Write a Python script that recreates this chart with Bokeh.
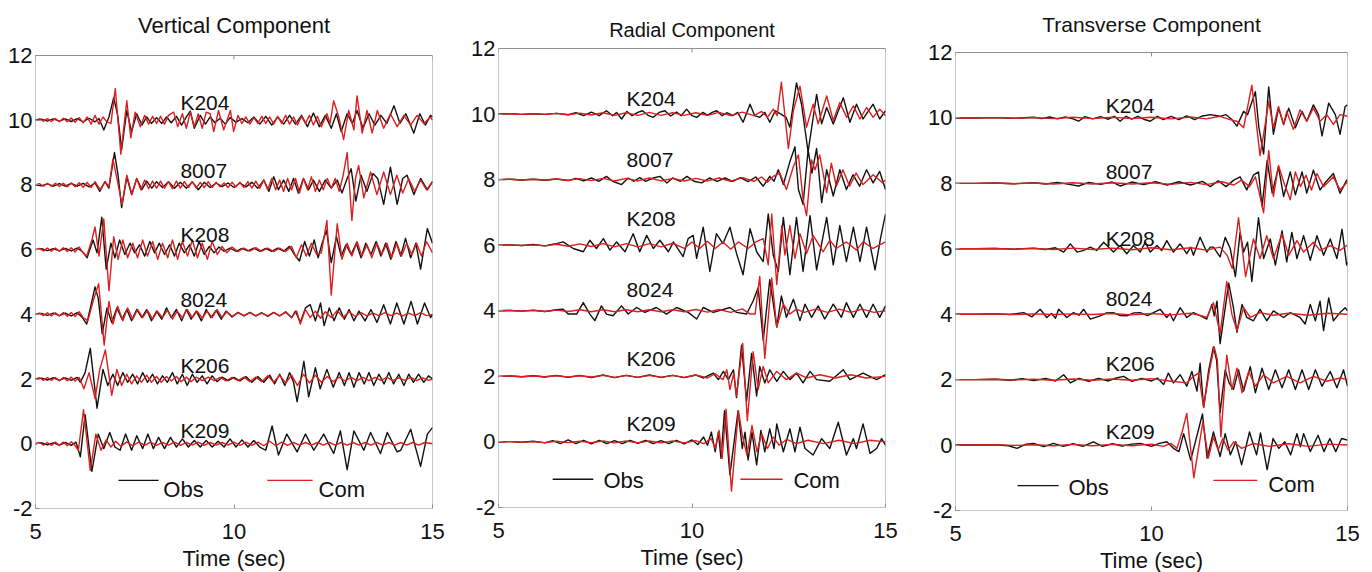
from bokeh.plotting import figure
from bokeh.layouts import row
from bokeh.models import Range1d, FixedTicker, PrintfTickFormatter
from bokeh.core.properties import value
from bokeh.embed import file_html
from bokeh.resources import INLINE

STATIONS = ["K204", "8007", "K208", "8024", "K206", "K209"]
OFFSETS = [10, 8, 6, 4, 2, 0]
X_TICKS = [5, 10, 15]
Y_TICKS = [-2, 0, 2, 4, 6, 8, 10, 12]
X_LIM = (5, 15)
Y_LIM = (-2, 12)
PANEL_TITLES = ["Vertical Component", "Radial Component", "Transverse Component"]
LEGEND_NAMES = ["Obs", "Com"]

# ---------------- Vertical component (time s, amplitude) ----------------
V_K204_OBS = [(5.0,0.0),(5.15,0.03),(5.3,-0.03),(5.45,0.04),(5.6,-0.03),(5.75,0.04),(5.9,-0.04),(6.05,0.05),(6.2,-0.05),(6.35,0.06),(6.5,-0.05),(6.6,0.05),(6.72,-0.3),(6.85,0.1),(6.97,0.7),(7.07,0.15),(7.17,-0.9),(7.3,0.3),(7.42,-0.35),(7.55,0.2),(7.68,-0.15),(7.8,0.1),(7.92,-0.1),(8.05,0.08),(8.18,-0.1),(8.3,0.1),(8.42,-0.08),(8.55,0.12),(8.68,-0.15),(8.8,0.1),(8.9,0.28),(9.0,-0.25),(9.15,0.15),(9.28,-0.12),(9.4,0.1),(9.52,-0.08),(9.65,0.06),(9.78,-0.12),(9.9,0.08),(10.05,-0.06),(10.2,0.05),(10.35,-0.08),(10.5,0.1),(10.65,-0.12),(10.8,0.12),(10.95,-0.15),(11.1,0.1),(11.25,-0.12),(11.4,0.15),(11.55,-0.12),(11.7,0.15),(11.85,-0.2),(12.0,0.22),(12.15,-0.2),(12.3,0.15),(12.45,-0.25),(12.58,0.2),(12.7,-0.35),(12.85,0.2),(12.98,-0.1),(13.1,0.3),(13.25,-0.25),(13.4,0.2),(13.55,-0.15),(13.7,0.15),(13.85,-0.1),(14.03,0.45),(14.18,-0.1),(14.33,0.2),(14.53,-0.4),(14.68,0.2),(14.82,-0.15),(14.95,0.15),(15.0,0.1)]
V_K204_COM = [(5.0,0.0),(5.1,0.04),(5.2,-0.03),(5.3,0.05),(5.4,-0.04),(5.5,0.05),(5.6,-0.05),(5.7,0.06),(5.8,-0.05),(5.9,0.07),(6.0,-0.06),(6.1,0.08),(6.2,-0.08),(6.3,0.1),(6.4,-0.12),(6.5,0.15),(6.6,-0.12),(6.7,0.1),(6.8,-0.05),(6.9,-0.1),(7.01,0.98),(7.15,-1.05),(7.3,0.6),(7.4,-0.55),(7.51,0.25),(7.64,-0.2),(7.75,0.15),(7.85,-0.12),(7.95,0.12),(8.05,-0.1),(8.15,0.12),(8.25,-0.12),(8.35,0.15),(8.48,0.25),(8.58,-0.2),(8.7,0.2),(8.8,-0.25),(8.9,0.25),(9.0,-0.2),(9.1,0.2),(9.2,-0.25),(9.3,0.25),(9.4,0.2),(9.49,-0.35),(9.61,0.3),(9.74,-0.3),(9.91,0.3),(9.99,-0.35),(10.1,0.15),(10.2,-0.1),(10.3,0.1),(10.4,-0.12),(10.5,0.08),(10.6,-0.1),(10.7,0.12),(10.8,-0.1),(10.9,0.1),(11.0,-0.12),(11.1,0.12),(11.2,-0.1),(11.3,0.15),(11.4,-0.12),(11.5,0.1),(11.6,-0.15),(11.7,0.12),(11.8,-0.1),(11.9,0.15),(12.0,-0.15),(12.1,0.12),(12.2,-0.2),(12.34,0.2),(12.42,-0.1),(12.51,0.6),(12.64,0.1),(12.76,-0.6),(12.89,0.3),(13.02,-0.3),(13.1,0.75),(13.23,-0.4),(13.35,0.3),(13.48,-0.4),(13.61,0.3),(13.77,-0.25),(13.94,0.2),(14.11,-0.2),(14.28,0.15),(14.45,-0.15),(14.61,0.15),(14.78,-0.1),(14.95,0.1),(15.0,0.0)]
V_8007_OBS = [(5.0,0.0),(5.15,-0.03),(5.3,0.03),(5.45,-0.04),(5.6,0.04),(5.75,-0.04),(5.9,0.05),(6.05,-0.04),(6.2,0.05),(6.35,-0.06),(6.5,0.06),(6.62,-0.2),(6.75,0.1),(6.85,-0.1),(6.99,1.0),(7.08,0.3),(7.17,-0.7),(7.3,0.25),(7.42,-0.3),(7.55,0.2),(7.68,-0.15),(7.8,0.12),(7.93,-0.1),(8.05,0.1),(8.2,-0.08),(8.35,0.1),(8.5,-0.1),(8.65,0.08),(8.8,-0.1),(8.95,0.1),(9.1,-0.15),(9.25,0.08),(9.4,-0.08),(9.55,0.06),(9.7,-0.05),(9.85,0.06),(10.0,-0.08),(10.15,0.06),(10.3,-0.06),(10.45,0.08),(10.6,-0.1),(10.75,0.15),(10.88,-0.2),(11.0,0.25),(11.12,-0.15),(11.25,0.15),(11.38,-0.2),(11.5,0.2),(11.62,-0.25),(11.75,0.2),(11.88,-0.15),(12.0,0.15),(12.15,-0.2),(12.3,0.15),(12.45,-0.1),(12.6,0.15),(12.72,-0.25),(12.85,0.2),(12.95,0.5),(13.07,-0.5),(13.2,0.3),(13.35,-0.2),(13.5,0.35),(13.62,0.2),(13.77,-0.6),(13.94,0.55),(14.11,-0.6),(14.25,0.2),(14.36,0.3),(14.53,-0.3),(14.7,0.2),(14.87,-0.15),(15.0,0.1)]
V_8007_COM = [(5.0,0.0),(5.1,0.04),(5.2,-0.04),(5.3,0.05),(5.4,-0.04),(5.5,0.05),(5.6,-0.05),(5.7,0.05),(5.8,-0.06),(5.9,0.06),(6.0,-0.06),(6.1,0.07),(6.2,-0.07),(6.3,0.08),(6.4,-0.08),(6.5,0.1),(6.63,-0.15),(6.75,0.1),(6.85,-0.05),(6.95,0.8),(7.05,0.2),(7.18,-0.6),(7.3,0.3),(7.43,-0.3),(7.55,0.2),(7.65,-0.15),(7.75,0.15),(7.85,-0.12),(7.95,0.12),(8.05,-0.1),(8.15,0.12),(8.25,-0.1),(8.35,0.1),(8.45,-0.12),(8.55,0.12),(8.65,-0.1),(8.75,0.1),(8.85,-0.08),(8.95,0.1),(9.05,-0.1),(9.15,0.08),(9.25,-0.08),(9.35,0.1),(9.45,-0.08),(9.55,0.08),(9.65,-0.06),(9.75,0.06),(9.85,-0.08),(9.95,0.08),(10.05,-0.06),(10.15,0.08),(10.25,-0.08),(10.35,0.1),(10.45,-0.1),(10.55,0.12),(10.65,-0.1),(10.75,0.15),(10.85,-0.15),(10.95,0.2),(11.05,-0.15),(11.15,0.15),(11.25,-0.2),(11.35,0.2),(11.45,-0.15),(11.55,0.2),(11.65,-0.25),(11.75,0.2),(11.85,-0.15),(11.95,0.25),(12.05,-0.2),(12.15,0.15),(12.25,-0.15),(12.35,0.2),(12.45,-0.1),(12.55,0.2),(12.65,-0.2),(12.75,0.3),(12.85,1.0),(12.97,-1.1),(13.06,0.2),(13.14,0.6),(13.27,-0.4),(13.44,0.4),(13.6,-0.3),(13.77,0.4),(13.94,-0.3),(14.1,0.3),(14.25,-0.25),(14.4,0.2),(14.55,-0.2),(14.7,0.15),(14.85,-0.15),(15.0,0.1)]
V_K208_OBS = [(5.0,0.0),(5.15,0.03),(5.3,-0.03),(5.45,0.03),(5.6,-0.04),(5.75,0.04),(5.9,-0.04),(6.05,0.05),(6.2,-0.08),(6.3,-0.25),(6.45,0.3),(6.55,-0.1),(6.67,1.0),(6.78,-0.6),(6.9,0.2),(7.0,-0.25),(7.12,0.3),(7.25,-0.15),(7.38,0.2),(7.5,-0.1),(7.62,0.15),(7.75,-0.2),(7.88,0.25),(8.0,-0.1),(8.12,0.2),(8.25,-0.15),(8.38,0.15),(8.5,-0.2),(8.62,0.2),(8.75,-0.1),(8.88,0.15),(9.0,-0.2),(9.12,0.25),(9.25,-0.15),(9.38,0.1),(9.5,-0.1),(9.62,0.08),(9.75,-0.05),(9.9,0.05),(10.05,-0.05),(10.2,0.04),(10.35,-0.04),(10.5,0.05),(10.65,-0.05),(10.8,0.04),(10.95,-0.05),(11.1,0.05),(11.25,-0.05),(11.4,0.1),(11.52,-0.15),(11.65,-0.35),(11.78,0.25),(11.9,-0.2),(12.02,0.3),(12.12,-0.25),(12.22,0.2),(12.33,0.6),(12.45,-0.4),(12.58,0.4),(12.7,-0.2),(12.82,0.15),(12.95,-0.15),(13.08,0.2),(13.2,-0.25),(13.32,0.2),(13.45,-0.15),(13.58,0.25),(13.7,-0.2),(13.82,0.2),(13.95,-0.3),(14.08,0.25),(14.2,-0.2),(14.32,0.35),(14.45,-0.25),(14.58,0.2),(14.7,-0.6),(14.87,0.65),(15.0,0.2)]
V_K208_COM = [(5.0,0.0),(5.1,0.04),(5.2,-0.04),(5.3,0.05),(5.4,-0.05),(5.5,0.05),(5.6,-0.05),(5.7,0.06),(5.8,-0.06),(5.9,0.06),(6.0,-0.07),(6.1,0.08),(6.2,-0.1),(6.29,-0.2),(6.42,0.3),(6.5,0.7),(6.6,-0.2),(6.72,0.95),(6.85,-1.27),(6.97,0.4),(7.08,-0.3),(7.2,0.3),(7.32,-0.25),(7.45,0.2),(7.57,-0.25),(7.7,0.3),(7.82,-0.2),(7.95,0.25),(8.08,-0.3),(8.2,0.2),(8.33,-0.25),(8.45,0.3),(8.58,-0.3),(8.7,0.25),(8.83,-0.2),(8.95,0.3),(9.08,-0.25),(9.2,0.2),(9.33,-0.3),(9.45,0.25),(9.58,-0.15),(9.7,0.1),(9.82,-0.1),(9.95,0.08),(10.1,-0.06),(10.25,0.05),(10.4,-0.05),(10.55,0.06),(10.7,-0.05),(10.85,0.05),(11.0,-0.06),(11.15,0.05),(11.3,-0.06),(11.45,0.1),(11.57,-0.25),(11.7,0.15),(11.82,-0.2),(11.95,0.2),(12.08,-0.15),(12.2,-0.1),(12.34,0.9),(12.45,-1.4),(12.6,0.8),(12.72,-0.3),(12.85,0.2),(12.97,-0.2),(13.1,0.25),(13.22,-0.2),(13.35,0.15),(13.47,-0.25),(13.6,0.2),(13.72,-0.15),(13.85,0.2),(13.97,-0.25),(14.1,0.2),(14.22,-0.2),(14.35,0.2),(14.48,-0.15),(14.6,0.2),(14.72,-0.2),(14.85,0.25),(15.0,-0.1)]
V_8024_OBS = [(5.0,0.0),(5.15,0.03),(5.3,-0.03),(5.45,0.04),(5.6,-0.04),(5.75,0.04),(5.9,-0.05),(6.05,0.05),(6.18,-0.1),(6.29,-0.3),(6.5,0.85),(6.58,0.5),(6.68,-0.6),(6.8,0.2),(6.92,-0.25),(7.05,0.2),(7.18,-0.15),(7.3,0.15),(7.42,-0.2),(7.55,0.15),(7.68,-0.1),(7.8,0.15),(7.92,-0.2),(8.05,0.1),(8.18,-0.15),(8.3,0.2),(8.42,-0.1),(8.55,0.15),(8.68,-0.2),(8.8,0.15),(8.92,-0.15),(9.05,0.1),(9.18,-0.2),(9.3,0.15),(9.42,-0.1),(9.55,0.12),(9.68,-0.15),(9.8,0.1),(9.95,-0.08),(10.1,0.06),(10.25,-0.05),(10.4,0.06),(10.55,-0.05),(10.7,0.05),(10.85,-0.06),(11.0,0.06),(11.15,-0.05),(11.3,0.08),(11.45,-0.1),(11.55,0.1),(11.67,-0.25),(11.8,0.2),(11.92,0.3),(12.05,-0.2),(12.18,0.35),(12.27,-0.35),(12.4,0.2),(12.52,-0.2),(12.65,0.2),(12.78,-0.15),(12.9,0.15),(13.02,-0.2),(13.15,0.1),(13.3,-0.2),(13.45,0.15),(13.6,-0.25),(13.77,0.3),(13.94,-0.3),(14.1,0.35),(14.28,-0.3),(14.46,0.4),(14.62,-0.3),(14.8,0.35),(14.95,-0.1),(15.0,0.0)]
V_8024_COM = [(5.0,0.0),(5.1,0.04),(5.2,-0.04),(5.3,0.05),(5.4,-0.05),(5.5,0.05),(5.6,-0.05),(5.7,0.06),(5.8,-0.06),(5.9,0.06),(6.0,-0.07),(6.1,0.08),(6.2,-0.1),(6.32,-0.2),(6.45,0.4),(6.59,0.95),(6.73,-0.95),(6.85,0.4),(6.95,-0.3),(7.07,0.25),(7.2,-0.2),(7.32,0.2),(7.45,-0.15),(7.57,0.15),(7.7,-0.1),(7.82,0.12),(7.95,-0.15),(8.07,0.1),(8.2,-0.1),(8.32,0.12),(8.45,-0.15),(8.57,0.1),(8.7,-0.1),(8.82,0.15),(8.95,-0.1),(9.07,0.1),(9.2,-0.12),(9.32,0.1),(9.45,-0.1),(9.57,0.15),(9.7,-0.1),(9.82,0.08),(9.95,-0.06),(10.1,0.05),(10.25,-0.04),(10.4,0.05),(10.55,-0.05),(10.7,0.04),(10.85,-0.05),(11.0,0.05),(11.15,-0.05),(11.3,0.06),(11.45,-0.1),(11.58,0.1),(11.67,-0.3),(11.8,0.15),(11.92,-0.1),(12.05,0.1),(12.18,-0.12),(12.3,0.08),(12.45,-0.1),(12.6,0.12),(12.75,-0.1),(12.9,0.08),(13.05,-0.06),(13.2,0.05),(13.35,-0.05),(13.5,0.04),(13.65,-0.04),(13.8,0.05),(13.95,-0.04),(14.1,0.04),(14.25,-0.05),(14.4,0.04),(14.55,-0.04),(14.7,0.05),(14.85,-0.04),(15.0,0.0)]
V_K206_OBS = [(5.0,0.0),(5.15,0.03),(5.3,-0.03),(5.45,0.04),(5.6,-0.04),(5.75,0.04),(5.9,-0.04),(6.05,0.05),(6.13,-0.1),(6.25,0.2),(6.38,0.95),(6.55,-0.9),(6.7,0.3),(6.82,-0.2),(6.95,0.15),(7.07,-0.2),(7.2,0.2),(7.32,-0.1),(7.45,0.15),(7.57,-0.15),(7.7,0.2),(7.82,-0.1),(7.95,0.15),(8.07,-0.15),(8.2,0.1),(8.32,-0.1),(8.45,0.2),(8.57,-0.15),(8.7,0.15),(8.82,-0.2),(8.95,0.15),(9.07,-0.1),(9.2,0.1),(9.32,-0.15),(9.45,0.1),(9.57,-0.08),(9.7,0.06),(9.85,-0.05),(10.0,0.05),(10.15,-0.06),(10.3,0.08),(10.45,-0.1),(10.6,0.08),(10.75,-0.1),(10.9,0.12),(11.02,-0.15),(11.15,0.15),(11.28,-0.2),(11.4,0.2),(11.5,-0.1),(11.59,-0.7),(11.76,0.55),(11.88,-0.55),(12.05,0.35),(12.17,-0.3),(12.34,0.3),(12.5,-0.25),(12.65,0.2),(12.78,-0.2),(12.9,0.2),(13.02,-0.25),(13.15,0.2),(13.28,-0.15),(13.4,0.2),(13.52,-0.2),(13.65,0.15),(13.78,-0.15),(13.9,0.2),(14.02,-0.15),(14.15,0.15),(14.28,-0.2),(14.4,0.15),(14.52,-0.1),(14.65,0.15),(14.78,-0.1),(14.9,0.1),(15.0,0.0)]
V_K206_COM = [(5.0,0.0),(5.1,0.04),(5.2,-0.04),(5.3,0.05),(5.4,-0.04),(5.5,0.05),(5.6,-0.05),(5.7,0.05),(5.8,-0.05),(5.9,0.06),(6.0,-0.06),(6.1,0.05),(6.22,-0.3),(6.35,0.2),(6.5,-0.6),(6.62,0.3),(6.76,0.9),(6.92,-0.5),(7.05,0.3),(7.17,-0.2),(7.3,0.15),(7.42,-0.15),(7.55,0.1),(7.67,-0.1),(7.8,0.12),(7.92,-0.1),(8.05,0.08),(8.17,-0.1),(8.3,0.08),(8.42,-0.06),(8.55,0.08),(8.67,-0.08),(8.8,0.06),(8.92,-0.08),(9.05,0.06),(9.2,-0.05),(9.35,0.06),(9.5,-0.05),(9.65,0.05),(9.8,-0.06),(9.95,0.05),(10.1,-0.05),(10.25,0.06),(10.4,-0.08),(10.55,0.06),(10.7,-0.08),(10.85,0.1),(11.0,-0.1),(11.15,0.12),(11.3,-0.12),(11.45,0.12),(11.6,-0.2),(11.75,0.15),(11.9,-0.12),(12.05,0.12),(12.2,-0.1),(12.35,0.08),(12.5,-0.08),(12.65,0.06),(12.8,-0.06),(12.95,0.05),(13.1,-0.05),(13.25,0.05),(13.4,-0.05),(13.55,0.05),(13.7,-0.04),(13.85,0.05),(14.0,-0.05),(14.15,0.04),(14.3,-0.04),(14.45,0.05),(14.6,-0.05),(14.75,0.04),(14.9,-0.04),(15.0,0.0)]
V_K209_OBS = [(5.0,0.0),(5.15,0.03),(5.3,-0.03),(5.45,0.03),(5.6,-0.04),(5.75,0.04),(5.9,-0.05),(6.02,0.05),(6.13,-0.4),(6.25,0.9),(6.42,-0.85),(6.58,0.3),(6.72,-0.15),(6.87,0.35),(7.0,-0.1),(7.13,-0.2),(7.27,0.3),(7.42,-0.2),(7.55,0.25),(7.7,-0.15),(7.83,0.3),(7.97,-0.15),(8.1,0.2),(8.25,-0.15),(8.4,0.2),(8.55,-0.1),(8.7,0.15),(8.85,-0.1),(9.0,0.1),(9.15,-0.1),(9.3,0.1),(9.45,-0.1),(9.6,0.08),(9.75,-0.1),(9.9,0.15),(10.05,-0.1),(10.2,0.12),(10.35,-0.1),(10.5,0.1),(10.65,-0.1),(10.8,-0.2),(10.96,0.55),(11.12,-0.35),(11.33,0.3),(11.59,-0.25),(11.8,0.3),(12.01,-0.2),(12.26,0.3),(12.51,-0.3),(12.68,0.4),(12.85,-0.8),(13.02,0.4),(13.27,-0.2),(13.44,0.35),(13.69,-0.3),(13.86,0.35),(14.11,-0.25),(14.2,-0.2),(14.45,0.45),(14.7,-0.7),(14.87,0.3),(15.0,0.5)]
V_K209_COM = [(5.0,0.0),(5.1,0.04),(5.2,-0.04),(5.3,0.04),(5.4,-0.05),(5.5,0.05),(5.6,-0.05),(5.7,0.05),(5.8,-0.06),(5.9,0.06),(6.0,-0.06),(6.08,-0.2),(6.21,1.05),(6.38,-0.82),(6.52,0.3),(6.65,-0.2),(6.78,0.12),(6.9,-0.1),(7.02,0.08),(7.15,-0.08),(7.3,0.06),(7.45,-0.06),(7.6,0.05),(7.75,-0.05),(7.9,0.05),(8.05,-0.05),(8.2,0.04),(8.35,-0.04),(8.5,0.05),(8.65,-0.05),(8.8,0.04),(8.95,-0.04),(9.1,0.05),(9.25,-0.05),(9.4,0.04),(9.55,-0.04),(9.7,0.04),(9.85,-0.04),(10.0,0.05),(10.15,-0.05),(10.3,0.05),(10.45,-0.05),(10.6,0.05),(10.75,-0.06),(10.9,0.08),(11.05,-0.06),(11.2,0.05),(11.35,-0.05),(11.5,0.04),(11.65,-0.04),(11.8,0.04),(11.95,-0.04),(12.1,0.04),(12.25,-0.04),(12.4,0.04),(12.55,-0.04),(12.7,0.04),(12.85,-0.04),(13.0,0.04),(13.15,-0.04),(13.3,0.04),(13.45,-0.04),(13.6,0.04),(13.75,-0.04),(13.9,0.04),(14.05,-0.04),(14.2,0.04),(14.35,-0.04),(14.5,0.04),(14.65,-0.04),(14.8,0.04),(15.0,0.0)]

# ---------------- Radial component ----------------
R_K204_OBS = [(5.0,0.0),(5.3,0.01),(5.6,-0.01),(5.9,0.01),(6.2,-0.01),(6.5,0.02),(6.8,-0.02),(7.0,0.04),(7.2,-0.05),(7.4,0.06),(7.6,-0.05),(7.79,0.1),(7.95,-0.05),(8.05,0.05),(8.18,-0.15),(8.32,0.08),(8.45,-0.05),(8.6,0.05),(8.72,0.1),(8.88,-0.05),(9.0,-0.1),(9.15,0.05),(9.3,0.1),(9.45,-0.06),(9.6,0.06),(9.72,-0.05),(9.86,0.15),(10.0,-0.05),(10.12,-0.1),(10.28,0.05),(10.4,-0.04),(10.52,0.05),(10.64,0.1),(10.78,-0.05),(10.9,0.04),(11.05,-0.05),(11.18,0.05),(11.32,-0.25),(11.5,0.3),(11.62,-0.05),(11.75,-0.1),(11.88,0.05),(12.01,-0.25),(12.15,0.1),(12.3,0.0),(12.43,-0.1),(12.53,-0.4),(12.7,0.95),(12.83,0.3),(13.0,-1.15),(13.22,0.6),(13.35,-0.3),(13.48,0.2),(13.65,-0.3),(13.91,0.5),(14.08,-0.25),(14.25,0.3),(14.42,-0.15),(14.68,0.3),(14.85,-0.15),(15.0,0.1)]
R_K204_COM = [(5.0,0.0),(5.3,0.01),(5.6,-0.01),(5.9,0.01),(6.2,-0.01),(6.5,0.02),(6.8,-0.02),(7.1,0.03),(7.4,-0.03),(7.7,0.04),(8.0,-0.04),(8.3,0.04),(8.6,-0.04),(8.9,0.05),(9.2,-0.04),(9.5,0.04),(9.8,-0.04),(10.1,0.04),(10.4,-0.04),(10.7,0.05),(11.0,-0.05),(11.3,0.06),(11.6,-0.05),(11.8,0.08),(11.95,-0.1),(12.1,0.15),(12.2,-0.05),(12.31,0.97),(12.49,-1.05),(12.62,0.1),(12.79,0.85),(12.96,-0.4),(13.13,0.3),(13.26,-0.3),(13.48,0.55),(13.65,-0.2),(13.82,0.35),(14.0,-0.1),(14.17,0.25),(14.34,-0.15),(14.51,0.2),(14.68,-0.1),(14.85,0.15),(15.0,-0.05)]
R_8007_OBS = [(5.0,0.0),(5.3,0.01),(5.6,-0.01),(5.9,0.01),(6.2,-0.02),(6.5,0.02),(6.8,-0.03),(7.0,0.04),(7.2,-0.04),(7.4,0.05),(7.6,-0.05),(7.79,0.1),(7.95,-0.05),(8.18,-0.15),(8.35,0.05),(8.5,-0.05),(8.65,0.06),(8.8,-0.05),(9.0,0.05),(9.17,0.1),(9.35,-0.1),(9.5,0.05),(9.7,-0.05),(9.87,0.1),(10.05,-0.05),(10.25,-0.1),(10.45,0.05),(10.65,-0.05),(10.85,0.05),(11.05,-0.05),(11.25,0.06),(11.45,-0.06),(11.65,0.08),(11.84,-0.2),(12.01,0.1),(12.12,-0.05),(12.23,0.3),(12.36,-0.15),(12.53,0.55),(12.66,1.0),(12.75,-0.3),(12.87,-0.75),(13.0,0.9),(13.1,0.2),(13.22,0.95),(13.35,-0.7),(13.48,0.3),(13.65,-0.5),(13.82,0.3),(13.99,-0.3),(14.16,0.15),(14.33,-0.2),(14.51,0.3),(14.68,-0.1),(14.85,0.25),(15.0,-0.3)]
R_8007_COM = [(5.0,0.0),(5.3,0.01),(5.6,-0.01),(5.9,0.01),(6.2,-0.01),(6.5,0.02),(6.8,-0.02),(7.1,0.03),(7.4,-0.03),(7.7,0.04),(8.0,-0.04),(8.3,0.04),(8.6,-0.04),(8.9,0.05),(9.2,-0.04),(9.5,0.04),(9.8,-0.04),(10.1,0.04),(10.4,-0.04),(10.7,0.05),(11.0,-0.05),(11.3,0.06),(11.6,-0.05),(11.8,0.08),(11.95,-0.08),(12.1,0.1),(12.27,0.2),(12.44,-0.3),(12.62,0.4),(12.75,0.75),(12.87,-0.6),(12.96,-1.1),(13.09,0.6),(13.18,0.3),(13.3,0.75),(13.48,-0.4),(13.6,0.5),(13.73,-0.2),(13.9,0.3),(14.07,-0.2),(14.24,0.2),(14.42,-0.15),(14.68,0.15),(14.93,-0.1),(15.0,0.0)]
R_K208_OBS = [(5.0,0.0),(5.3,0.01),(5.6,-0.01),(5.9,0.02),(6.2,-0.02),(6.41,0.03),(6.5,0.05),(6.67,0.1),(6.93,-0.1),(7.19,-0.2),(7.36,0.15),(7.53,-0.1),(7.71,0.2),(7.88,-0.15),(8.05,0.1),(8.27,-0.2),(8.48,0.35),(8.65,-0.2),(8.83,0.3),(9.0,-0.1),(9.17,0.15),(9.39,-0.2),(9.52,0.1),(9.77,-0.35),(9.9,0.2),(10.03,0.3),(10.12,-0.4),(10.29,0.55),(10.46,-0.8),(10.63,0.35),(10.8,0.05),(10.98,0.55),(11.15,-0.25),(11.32,-0.9),(11.5,0.5),(11.67,-0.2),(11.84,-0.5),(11.97,0.95),(12.1,-0.3),(12.23,-0.8),(12.36,0.85),(12.53,-0.9),(12.7,0.85),(12.87,-0.8),(13.05,0.9),(13.22,-0.75),(13.48,0.85),(13.65,-0.6),(13.82,0.6),(13.99,-0.5),(14.17,0.55),(14.34,-0.5),(14.51,0.55),(14.73,-0.75),(14.87,0.2),(15.0,0.95)]
R_K208_COM = [(5.0,0.0),(5.3,0.01),(5.6,-0.01),(5.9,0.01),(6.2,-0.02),(6.5,0.03),(6.8,-0.03),(7.1,0.04),(7.4,-0.04),(7.7,0.05),(8.0,-0.05),(8.3,0.05),(8.6,-0.05),(8.9,0.05),(9.2,-0.05),(9.5,0.06),(9.8,-0.1),(10.0,0.1),(10.2,-0.1),(10.4,0.12),(10.6,-0.1),(10.8,0.1),(11.0,-0.12),(11.2,0.1),(11.45,-0.1),(11.65,0.1),(11.84,0.2),(11.97,-0.6),(12.06,0.95),(12.19,-1.2),(12.32,0.6),(12.4,-0.3),(12.53,0.6),(12.66,-0.4),(12.79,0.35),(12.96,-0.25),(13.13,0.3),(13.39,-0.2),(13.56,0.15),(13.73,-0.1),(13.99,0.1),(14.25,-0.15),(14.42,0.1),(14.68,-0.1),(15.0,0.1)]
R_8024_OBS = [(5.0,0.0),(5.3,0.01),(5.6,-0.01),(5.9,0.02),(6.2,-0.02),(6.5,0.03),(6.67,0.05),(6.8,-0.1),(7.02,-0.1),(7.19,0.25),(7.36,-0.1),(7.49,-0.3),(7.66,0.15),(7.79,-0.1),(7.96,-0.15),(8.18,0.15),(8.35,-0.1),(8.57,0.1),(8.78,-0.05),(9.08,0.1),(9.34,-0.1),(9.6,0.1),(9.9,-0.05),(10.12,-0.25),(10.29,0.1),(10.55,-0.05),(10.98,0.1),(11.15,-0.05),(11.41,-0.1),(11.58,0.3),(11.71,0.7),(11.84,-0.9),(12.01,0.95),(12.19,-0.5),(12.31,0.45),(12.44,-0.2),(12.62,0.35),(12.79,-0.3),(12.92,0.2),(13.09,-0.2),(13.26,0.15),(13.43,-0.25),(13.65,0.2),(13.86,-0.2),(13.99,0.25),(14.17,-0.2),(14.34,0.2),(14.51,-0.2),(14.68,0.2),(14.85,-0.2),(15.0,0.15)]
R_8024_COM = [(5.0,0.0),(5.3,0.01),(5.6,-0.01),(5.9,0.01),(6.2,-0.02),(6.5,0.02),(6.8,-0.02),(7.1,0.03),(7.4,-0.03),(7.7,0.03),(8.0,-0.03),(8.3,0.03),(8.6,-0.03),(8.9,0.03),(9.2,-0.03),(9.5,0.03),(9.8,-0.03),(10.1,0.04),(10.4,-0.04),(10.7,0.04),(11.0,-0.05),(11.3,0.06),(11.5,-0.1),(11.63,-0.1),(11.75,1.05),(11.88,-1.45),(12.06,1.0),(12.19,-0.5),(12.36,0.2),(12.53,-0.1),(12.7,0.05),(12.9,-0.05),(13.2,0.05),(13.5,-0.05),(13.8,0.05),(14.1,-0.05),(14.4,0.05),(14.7,-0.05),(15.0,0.0)]
R_K206_OBS = [(5.0,0.0),(5.3,0.01),(5.6,-0.01),(5.9,0.02),(6.2,-0.02),(6.5,0.03),(6.8,-0.03),(7.1,0.03),(7.4,-0.04),(7.7,0.04),(8.0,-0.04),(8.3,0.03),(8.6,-0.03),(8.9,0.04),(9.2,-0.03),(9.5,0.03),(9.8,-0.04),(10.1,0.04),(10.3,-0.05),(10.55,0.1),(10.68,-0.1),(10.81,0.15),(10.94,-0.1),(11.07,0.2),(11.15,-0.65),(11.28,0.95),(11.41,-0.75),(11.54,0.7),(11.67,-0.6),(11.75,0.3),(11.88,-0.2),(12.01,0.2),(12.19,-0.15),(12.36,0.15),(12.53,-0.1),(12.7,0.1),(12.87,-0.2),(13.05,0.15),(13.22,-0.1),(13.56,-0.15),(13.91,0.2),(14.08,-0.1),(14.42,0.1),(14.77,-0.1),(15.0,0.05)]
R_K206_COM = [(5.0,0.0),(5.3,0.01),(5.6,-0.01),(5.9,0.01),(6.2,-0.01),(6.5,0.02),(6.8,-0.02),(7.1,0.02),(7.4,-0.02),(7.7,0.03),(8.0,-0.03),(8.3,0.03),(8.6,-0.03),(8.9,0.03),(9.2,-0.03),(9.5,0.03),(9.8,-0.03),(10.1,0.04),(10.4,-0.05),(10.6,0.08),(10.8,-0.1),(10.9,0.2),(10.98,-0.4),(11.08,0.1),(11.15,-0.6),(11.31,1.0),(11.43,-1.35),(11.58,0.75),(11.71,-0.4),(11.84,0.3),(11.97,-0.2),(12.19,0.15),(12.44,-0.1),(12.7,0.1),(12.96,-0.05),(13.3,0.05),(13.7,-0.05),(14.1,0.05),(14.5,-0.05),(15.0,0.0)]
R_K209_OBS = [(5.0,0.0),(5.3,0.01),(5.6,-0.01),(5.9,0.02),(6.2,-0.03),(6.4,0.04),(6.6,-0.05),(6.8,0.06),(7.0,-0.05),(7.2,0.05),(7.4,-0.06),(7.6,0.05),(7.8,-0.05),(8.0,0.04),(8.2,-0.05),(8.4,0.05),(8.6,-0.04),(8.8,0.05),(9.0,-0.05),(9.2,0.04),(9.4,-0.05),(9.6,0.05),(9.8,-0.06),(10.0,0.06),(10.15,-0.08),(10.3,0.15),(10.4,-0.1),(10.5,0.3),(10.6,-0.3),(10.68,0.3),(10.75,-0.5),(10.84,0.95),(10.98,-1.0),(11.19,0.95),(11.3,-0.2),(11.37,0.3),(11.45,-0.55),(11.55,0.3),(11.67,-0.7),(11.78,0.35),(11.88,-0.3),(12.01,0.4),(12.12,-0.2),(12.19,0.55),(12.36,-0.3),(12.53,0.4),(12.66,-0.3),(12.79,0.45),(12.92,-0.2),(13.13,-0.4),(13.35,0.1),(13.56,-0.2),(13.78,0.6),(13.99,-0.4),(14.17,0.1),(14.25,-0.2),(14.42,0.55),(14.6,-0.35),(14.77,-0.2),(14.9,0.1),(15.0,-0.1)]
R_K209_COM = [(5.0,0.0),(5.3,0.01),(5.6,-0.01),(5.9,0.01),(6.2,-0.02),(6.5,0.02),(6.8,-0.02),(7.1,0.02),(7.4,-0.02),(7.7,0.03),(8.0,-0.03),(8.3,0.03),(8.6,-0.03),(8.9,0.03),(9.2,-0.03),(9.5,0.03),(9.8,-0.03),(10.1,0.04),(10.3,-0.05),(10.5,0.1),(10.6,-0.2),(10.7,0.35),(10.78,-0.5),(10.88,1.0),(11.02,-1.5),(11.2,0.95),(11.3,0.2),(11.42,-0.4),(11.55,0.5),(11.68,-0.3),(11.8,0.25),(11.95,-0.2),(12.1,0.15),(12.25,-0.1),(12.45,0.08),(12.7,-0.05),(13.0,0.05),(13.4,-0.05),(13.8,0.05),(14.2,-0.05),(14.6,0.05),(15.0,0.0)]

# ---------------- Transverse component ----------------
T_K204_OBS = [(5.0,0.0),(5.5,0.0),(6.0,0.01),(6.5,-0.01),(7.0,0.02),(7.2,-0.02),(7.4,0.03),(7.6,-0.03),(7.8,0.03),(8.0,-0.03),(8.14,-0.1),(8.3,0.04),(8.5,-0.03),(8.7,0.04),(8.9,-0.04),(9.05,0.05),(9.2,-0.1),(9.35,0.05),(9.5,-0.04),(9.65,0.05),(9.8,-0.04),(9.97,-0.1),(10.15,0.05),(10.3,-0.05),(10.5,0.05),(10.7,-0.05),(10.9,0.06),(11.1,-0.05),(11.3,0.06),(11.5,0.1),(11.75,0.05),(11.9,0.1),(12.05,-0.05),(12.18,-0.25),(12.35,0.2),(12.45,0.1),(12.65,0.8),(12.74,-0.3),(12.86,-1.1),(12.99,0.95),(13.11,-0.5),(13.24,0.3),(13.37,-0.2),(13.5,0.3),(13.67,-0.3),(13.84,0.2),(13.96,-0.1),(14.13,0.4),(14.26,0.1),(14.35,-0.55),(14.52,0.45),(14.69,0.1),(14.81,-0.5),(14.94,0.35),(15.0,0.4)]
T_K204_COM = [(5.0,0.0),(5.5,0.0),(6.0,0.01),(6.5,-0.01),(7.0,0.01),(7.5,-0.02),(8.0,0.02),(8.5,-0.02),(9.0,0.02),(9.5,-0.02),(10.0,0.02),(10.5,-0.03),(11.0,0.03),(11.4,-0.03),(11.75,0.05),(12.0,-0.05),(12.18,-0.1),(12.35,-0.3),(12.56,1.0),(12.77,-1.15),(12.9,-0.2),(12.99,0.5),(13.11,-0.3),(13.24,0.35),(13.37,-0.2),(13.45,0.2),(13.62,-0.35),(13.79,0.25),(13.96,-0.1),(14.13,0.3),(14.3,-0.1),(14.47,0.1),(14.64,-0.2),(14.81,0.1),(15.0,0.05)]
T_8007_OBS = [(5.0,0.0),(5.5,0.0),(6.0,0.01),(6.5,-0.01),(7.0,0.02),(7.3,-0.02),(7.6,0.03),(7.9,-0.03),(8.14,-0.08),(8.4,0.03),(8.7,-0.03),(9.0,0.04),(9.2,-0.08),(9.5,0.04),(9.8,-0.04),(10.1,0.05),(10.4,-0.05),(10.7,0.05),(11.0,-0.05),(11.3,0.06),(11.5,-0.1),(11.7,0.08),(11.9,-0.1),(12.1,0.1),(12.26,0.2),(12.43,-0.2),(12.6,0.25),(12.73,0.35),(12.82,-0.7),(12.95,0.7),(13.08,-0.3),(13.24,0.5),(13.37,-0.4),(13.54,0.35),(13.67,-0.35),(13.84,0.35),(13.96,-0.3),(14.13,0.4),(14.3,-0.2),(14.45,0.05),(14.64,0.3),(14.81,-0.3),(14.98,0.1),(15.0,0.1)]
T_8007_COM = [(5.0,0.0),(5.5,0.0),(6.0,0.01),(6.5,-0.01),(7.0,0.01),(7.5,-0.02),(8.0,0.02),(8.5,-0.02),(9.0,0.02),(9.5,-0.02),(10.0,0.02),(10.5,-0.03),(11.0,0.03),(11.4,-0.04),(11.8,0.05),(12.1,-0.05),(12.3,0.1),(12.5,-0.1),(12.65,0.2),(12.75,-0.3),(12.86,-0.9),(12.99,1.0),(13.11,-0.4),(13.24,0.55),(13.37,0.05),(13.54,-0.5),(13.67,0.35),(13.8,-0.1),(13.94,0.25),(14.08,-0.2),(14.22,0.3),(14.39,-0.1),(14.64,0.2),(14.81,-0.2),(15.0,0.05)]
T_K208_OBS = [(5.0,0.0),(5.5,0.0),(6.0,0.01),(6.5,-0.01),(7.0,0.02),(7.3,-0.02),(7.55,0.03),(7.76,-0.1),(7.93,0.15),(8.1,-0.1),(8.27,-0.05),(8.44,0.05),(8.6,-0.05),(8.78,0.2),(9.03,-0.1),(9.2,0.1),(9.37,-0.15),(9.54,0.1),(9.71,-0.1),(9.84,0.2),(9.97,-0.1),(10.14,0.1),(10.26,-0.05),(10.39,0.25),(10.56,-0.1),(10.73,0.15),(10.9,-0.15),(11.0,0.05),(11.07,-0.2),(11.24,0.35),(11.41,-0.1),(11.5,0.05),(11.58,0.05),(11.75,-0.25),(11.88,0.35),(12.01,0.0),(12.14,-0.85),(12.26,0.5),(12.35,-0.1),(12.45,0.2),(12.56,-1.0),(12.73,0.95),(12.86,-0.3),(13.03,0.3),(13.16,-0.5),(13.33,0.55),(13.45,-0.4),(13.58,0.5),(13.71,-0.3),(13.88,0.4),(14.05,-0.35),(14.22,0.4),(14.39,-0.2),(14.56,0.3),(14.73,-0.3),(14.86,0.6),(14.98,-0.5),(15.0,-0.4)]
T_K208_COM = [(5.0,0.0),(5.5,0.0),(6.0,0.01),(6.5,-0.01),(7.0,0.01),(7.5,-0.02),(8.0,0.02),(8.5,-0.02),(9.0,0.02),(9.5,-0.03),(10.0,0.03),(10.5,-0.03),(11.0,0.03),(11.4,-0.04),(11.75,0.05),(11.93,-0.2),(12.06,-0.6),(12.22,0.95),(12.4,-0.85),(12.6,0.3),(12.77,-0.3),(12.94,0.4),(13.11,-0.3),(13.33,0.45),(13.5,-0.2),(13.71,0.25),(13.88,-0.1),(14.13,0.2),(14.3,-0.05),(14.56,0.1),(14.81,-0.05),(14.98,0.1),(15.0,0.1)]
T_8024_OBS = [(5.0,0.0),(5.5,0.0),(6.0,0.01),(6.4,-0.01),(6.74,0.05),(6.95,-0.08),(7.16,0.15),(7.33,-0.1),(7.45,0.02),(7.55,-0.12),(7.63,0.15),(7.84,-0.1),(8.01,0.05),(8.15,-0.03),(8.27,0.15),(8.44,-0.15),(8.69,-0.05),(8.85,0.04),(9.03,0.05),(9.2,-0.04),(9.37,-0.05),(9.55,0.04),(9.71,0.05),(9.9,-0.04),(10.05,0.05),(10.22,0.15),(10.39,-0.1),(10.47,0.02),(10.56,-0.2),(10.73,0.2),(10.9,-0.1),(11.07,0.05),(11.25,-0.05),(11.41,-0.15),(11.54,0.3),(11.6,-0.05),(11.67,0.4),(11.75,-0.9),(11.97,0.95),(12.09,0.2),(12.18,-0.55),(12.31,0.3),(12.43,-0.1),(12.6,-0.2),(12.77,0.15),(12.94,-0.2),(13.11,0.1),(13.37,-0.1),(13.54,0.05),(13.79,-0.1),(13.92,-0.3),(14.05,0.3),(14.18,-0.2),(14.3,0.4),(14.39,-0.5),(14.52,0.5),(14.64,-0.2),(14.81,0.05),(14.94,0.2),(15.0,0.1)]
T_8024_COM = [(5.0,0.0),(5.5,0.0),(6.0,0.01),(6.5,-0.01),(7.0,0.01),(7.5,-0.01),(8.0,0.01),(8.5,-0.01),(9.0,0.02),(9.5,-0.02),(10.0,0.02),(10.5,-0.02),(11.0,0.03),(11.25,-0.04),(11.41,-0.1),(11.58,0.35),(11.75,-0.6),(11.92,1.0),(12.05,0.0),(12.18,-0.5),(12.35,0.2),(12.52,-0.1),(12.77,0.05),(13.1,-0.03),(13.5,0.03),(14.0,-0.03),(14.5,0.03),(15.0,0.0)]
T_K206_OBS = [(5.0,0.0),(5.5,0.0),(6.0,0.01),(6.4,-0.02),(6.7,0.03),(7.0,-0.03),(7.3,0.04),(7.55,-0.04),(7.76,0.15),(7.93,-0.1),(8.15,0.04),(8.4,-0.05),(8.65,0.04),(8.9,-0.04),(9.1,0.05),(9.29,0.1),(9.5,-0.05),(9.75,0.04),(10.0,-0.04),(10.15,0.05),(10.31,-0.15),(10.43,0.2),(10.56,-0.1),(10.73,0.15),(10.9,-0.2),(11.03,0.25),(11.16,-0.35),(11.24,0.5),(11.33,-0.85),(11.46,0.3),(11.58,1.0),(11.66,0.6),(11.75,-1.0),(11.88,0.3),(11.98,-0.1),(12.09,-0.3),(12.22,0.3),(12.35,-0.35),(12.52,0.4),(12.65,-0.4),(12.82,0.35),(12.99,-0.3),(13.16,0.3),(13.33,-0.25),(13.5,0.3),(13.67,-0.3),(13.84,0.3),(14.01,-0.3),(14.18,0.3),(14.35,-0.2),(14.56,0.25),(14.73,-0.25),(14.9,0.3),(15.0,-0.2)]
T_K206_COM = [(5.0,0.0),(5.5,0.0),(6.0,0.01),(6.5,-0.01),(7.0,0.01),(7.5,-0.02),(8.0,0.02),(8.5,-0.02),(9.0,0.02),(9.5,-0.02),(10.0,0.03),(10.5,-0.05),(10.9,-0.1),(11.07,0.1),(11.2,0.2),(11.33,-0.85),(11.48,0.3),(11.6,1.0),(11.68,0.6),(11.77,-1.75),(11.92,0.75),(12.05,-0.3),(12.18,0.35),(12.31,-0.4),(12.48,0.25),(12.65,-0.2),(12.86,0.15),(13.11,-0.1),(13.45,0.1),(13.79,-0.1),(14.13,0.1),(14.47,-0.05),(14.81,0.05),(15.0,0.0)]
T_K209_OBS = [(5.0,0.0),(5.5,0.0),(6.0,0.01),(6.35,-0.02),(6.57,-0.1),(6.8,0.03),(6.99,0.05),(7.25,-0.05),(7.5,0.05),(7.75,-0.04),(8.0,0.04),(8.25,-0.04),(8.52,0.1),(8.75,-0.04),(9.0,0.04),(9.25,-0.03),(9.5,0.03),(9.71,0.05),(10.0,-0.04),(10.2,0.05),(10.39,0.1),(10.56,-0.1),(10.7,-0.2),(10.82,0.35),(11.0,-0.46),(11.3,0.95),(11.42,-0.4),(11.58,0.4),(11.75,-0.35),(11.88,0.35),(12.01,-0.3),(12.15,0.1),(12.3,-0.6),(12.5,0.4),(12.68,-0.3),(12.78,0.37),(12.95,-0.75),(13.1,0.2),(13.25,-0.1),(13.4,0.1),(13.55,-0.3),(13.71,0.35),(13.8,-0.05),(13.88,0.35),(14.05,-0.2),(14.25,0.3),(14.4,-0.2),(14.55,0.2),(14.7,-0.2),(14.85,0.2),(15.0,0.15)]
T_K209_COM = [(5.0,0.0),(5.5,0.0),(6.0,0.01),(6.5,-0.01),(7.0,0.01),(7.5,-0.02),(8.0,0.02),(8.5,-0.02),(9.0,0.02),(9.5,-0.02),(10.0,0.03),(10.3,-0.04),(10.5,0.05),(10.65,-0.1),(10.78,0.4),(10.9,0.97),(11.08,-1.0),(11.2,-0.1),(11.31,0.7),(11.45,-0.4),(11.58,0.25),(11.7,-0.15),(11.82,0.2),(11.95,-0.15),(12.1,0.1),(12.3,-0.1),(12.6,0.05),(13.0,-0.04),(13.5,0.04),(14.0,-0.04),(14.5,0.03),(15.0,0.0)]

VERT_OBS = [V_K204_OBS, V_8007_OBS, V_K208_OBS, V_8024_OBS, V_K206_OBS, V_K209_OBS]
VERT_COM = [V_K204_COM, V_8007_COM, V_K208_COM, V_8024_COM, V_K206_COM, V_K209_COM]
RAD_OBS = [R_K204_OBS, R_8007_OBS, R_K208_OBS, R_8024_OBS, R_K206_OBS, R_K209_OBS]
RAD_COM = [R_K204_COM, R_8007_COM, R_K208_COM, R_8024_COM, R_K206_COM, R_K209_COM]
TRAN_OBS = [T_K204_OBS, T_8007_OBS, T_K208_OBS, T_8024_OBS, T_K206_OBS, T_K209_OBS]
TRAN_COM = [T_K204_COM, T_8007_COM, T_K208_COM, T_8024_COM, T_K206_COM, T_K209_COM]

FONT = "Liberation Sans"
BLACK = "#111111"
RED = "#dc1e1e"
GRAY = "#8f8f8f"
TEXT_LIFT = 0.25  # rendered alphabetic baseline sits lower than requested

# The frame is extended above y=12 so the panel title can be drawn as text
# inside it; the visible axes box is drawn for y in Y_LIM only.
PANELS = [
    dict(title=PANEL_TITLES[0], obs=VERT_OBS, com=VERT_COM, fw=397, fh=503, y_top=13.545,
         l=35, r=28, t=5, b=64, title_y=12.93, tsize="22px",
         lab_x=8.65, lab_dy=[0.3, 0.17, 0.23, 0.18, 0.17, 0.16],
         leg=dict(ox=(7.09, 8.10), oy=-1.13, otx=8.22, oty=-1.66,
                  cx=(10.84, 11.98), cy=-1.13, ctx=12.13, cty=-1.66)),
    dict(title=PANEL_TITLES[1], obs=RAD_OBS, com=RAD_COM, fw=387, fh=502, y_top=13.311,
         l=38, r=30, t=5, b=65, title_y=12.55, tsize="20px",
         lab_x=8.31, lab_dy=[0.21, 0.34, 0.55, 0.38, 0.28, 0.3],
         leg=dict(ox=(6.40, 7.45), oy=-1.14, otx=7.71, oty=-1.42,
                  cx=(11.25, 12.34), cy=-1.14, ctx=12.62, cty=-1.42)),
    dict(title=PANEL_TITLES[2], obs=TRAN_OBS, com=TRAN_COM, fw=392, fh=505, y_top=13.437,
         l=40, r=25, t=5, b=62, title_y=12.86, tsize="21px",
         lab_x=8.83, lab_dy=[0.14, 0.09, 0.07, 0.21, 0.24, 0.18],
         leg=dict(ox=(6.58, 7.63), oy=-1.24, otx=7.88, oty=-1.54,
                  cx=(11.58, 12.70), cy=-1.08, ctx=12.98, cty=-1.45)),
]


def make_panel(cfg):
    p = figure(frame_width=cfg["fw"], frame_height=cfg["fh"],
               min_border_left=cfg["l"], min_border_right=cfg["r"],
               min_border_top=cfg["t"], min_border_bottom=cfg["b"],
               x_range=Range1d(*X_LIM), y_range=Range1d(Y_LIM[0], cfg["y_top"]),
               output_backend="svg", toolbar_location=None)
    p.grid.visible = False
    p.outline_line_color = None
    p.background_fill_color = "white"
    p.border_fill_color = "white"

    # axes box (x 5..15, y -2..12)
    p.rect(x=[(X_LIM[0] + X_LIM[1]) / 2], y=[(Y_LIM[0] + Y_LIM[1]) / 2],
           width=X_LIM[1] - X_LIM[0], height=Y_LIM[1] - Y_LIM[0],
           fill_color=None, line_color=GRAY, line_width=1)

    for ax in (p.xaxis[0], p.yaxis[0]):
        ax.major_label_text_font = FONT
        ax.major_label_text_font_size = "22px"
        ax.major_label_text_color = BLACK
        ax.major_tick_in = 4
        ax.major_tick_out = 0
        ax.minor_tick_in = 0
        ax.minor_tick_out = 0
        ax.major_tick_line_color = GRAY
        ax.axis_line_color = None
        ax.formatter = PrintfTickFormatter(format="%d")
    p.xaxis.ticker = FixedTicker(ticks=X_TICKS)
    p.yaxis.ticker = FixedTicker(ticks=Y_TICKS)
    p.xaxis.major_label_standoff = 15
    p.yaxis.major_label_standoff = 3
    p.xaxis.axis_label = "Time (sec)"
    p.xaxis.axis_label_text_font = FONT
    p.xaxis.axis_label_text_font_size = "22px"
    p.xaxis.axis_label_text_font_style = "normal"
    p.xaxis.axis_label_text_color = BLACK
    p.xaxis.axis_label_standoff = 4

    # small inward ticks on the top edge, at the x tick positions
    p.segment(x0=X_TICKS, y0=[Y_LIM[1]] * len(X_TICKS), x1=X_TICKS,
              y1=[Y_LIM[1] - 0.12] * len(X_TICKS), line_color=GRAY, line_width=1)

    # panel title
    p.text(x=[(X_LIM[0] + X_LIM[1]) / 2], y=[cfg["title_y"]], text=[cfg["title"]],
           text_font=value(FONT), text_font_size=cfg["tsize"], text_color=BLACK,
           text_align="center", text_baseline="alphabetic")

    for obs, com, off in zip(cfg["obs"], cfg["com"], OFFSETS):
        p.line([q[0] for q in obs], [q[1] + off for q in obs], line_color=BLACK,
               line_width=1.4, line_join="round")
        p.line([q[0] for q in com], [q[1] + off for q in com], line_color=RED,
               line_width=1.4, line_join="round")

    p.text(x=[cfg["lab_x"]] * len(STATIONS),
           y=[o + d + TEXT_LIFT for o, d in zip(OFFSETS, cfg["lab_dy"])],
           text=STATIONS, text_font=value(FONT), text_font_size="21px",
           text_color=BLACK, text_align="left", text_baseline="alphabetic")

    lg = cfg["leg"]
    p.segment(x0=[lg["ox"][0]], y0=[lg["oy"]], x1=[lg["ox"][1]], y1=[lg["oy"]],
              line_color=BLACK, line_width=1.4)
    p.segment(x0=[lg["cx"][0]], y0=[lg["cy"]], x1=[lg["cx"][1]], y1=[lg["cy"]],
              line_color=RED, line_width=1.4)
    p.text(x=[lg["otx"], lg["ctx"]], y=[lg["oty"] + TEXT_LIFT, lg["cty"] + TEXT_LIFT],
           text=LEGEND_NAMES, text_font=value(FONT), text_font_size="22px", text_color=BLACK,
           text_align="left", text_baseline="alphabetic")
    return p


panels = [make_panel(c) for c in PANELS]
layout = row(*panels, spacing=0)
open("out.html", "w").write(file_html(layout, INLINE))
